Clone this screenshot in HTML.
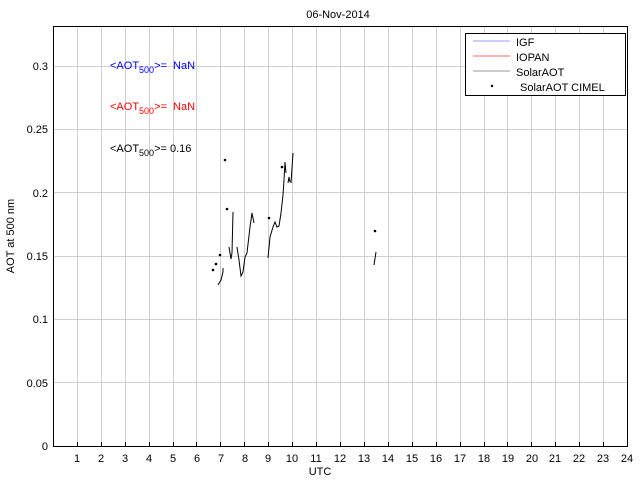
<!DOCTYPE html>
<html><head><meta charset="utf-8"><style>body{margin:0;background:#fff}svg{display:block}text{font-family:"Liberation Sans",sans-serif;font-size:11px}</style></head><body>
<svg width="640" height="480" xmlns="http://www.w3.org/2000/svg">
<rect width="640" height="480" fill="#fff"/>
<g stroke="#d0d0d0" stroke-width="1">
<path d="M77.5 26V446M101.5 26V446M125.5 26V446M149.5 26V446M173.5 26V446M196.5 26V446M220.5 26V446M244.5 26V446M268.5 26V446M292.5 26V446M316.5 26V446M340.5 26V446M364.5 26V446M388.5 26V446M412.5 26V446M436.5 26V446M460.5 26V446M484.5 26V446M507.5 26V446M531.5 26V446M555.5 26V446M579.5 26V446M603.5 26V446"/>
<path d="M53 382.5H627M53 319.5H627M53 256.5H627M53 192.5H627M53 129.5H627M53 66.5H627"/>
</g>
<rect x="53.5" y="26.5" width="574" height="420" fill="none" stroke="#000"/>
<g stroke="#000"><path d="M77.5 446v-4M101.5 446v-4M125.5 446v-4M149.5 446v-4M173.5 446v-4M196.5 446v-4M220.5 446v-4M244.5 446v-4M268.5 446v-4M292.5 446v-4M316.5 446v-4M340.5 446v-4M364.5 446v-4M388.5 446v-4M412.5 446v-4M436.5 446v-4M460.5 446v-4M484.5 446v-4M507.5 446v-4M531.5 446v-4M555.5 446v-4M579.5 446v-4M603.5 446v-4"/></g>
<g text-anchor="middle">
<text x="77" y="462">1</text><text x="101" y="462">2</text><text x="125" y="462">3</text><text x="149" y="462">4</text><text x="173" y="462">5</text><text x="197" y="462">6</text><text x="221" y="462">7</text><text x="245" y="462">8</text><text x="268" y="462">9</text><text x="292" y="462">10</text><text x="316" y="462">11</text><text x="340" y="462">12</text><text x="364" y="462">13</text><text x="388" y="462">14</text><text x="412" y="462">15</text><text x="436" y="462">16</text><text x="460" y="462">17</text><text x="484" y="462">18</text><text x="508" y="462">19</text><text x="532" y="462">20</text><text x="555" y="462">21</text><text x="579" y="462">22</text><text x="603" y="462">23</text><text x="627" y="462">24</text>
<text x="320" y="475" font-size="12">UTC</text>
<text x="338" y="18" font-size="12">06-Nov-2014</text>
</g>
<g text-anchor="end">
<text x="48" y="450">0</text><text x="48" y="387">0.05</text><text x="48" y="323">0.1</text><text x="48" y="260">0.15</text><text x="48" y="197">0.2</text><text x="48" y="133">0.25</text><text x="48" y="70">0.3</text>
</g>
<text transform="translate(14,236) rotate(-90)" text-anchor="middle" font-size="12">AOT at 500 nm</text>
<text x="110" y="69" fill="#0000ff" font-size="13">&lt;AOT<tspan font-size="9" dy="4">500</tspan><tspan dy="-4">&gt;=&#160;&#160;NaN</tspan></text>
<text x="110" y="110" fill="#ff0000" font-size="13">&lt;AOT<tspan font-size="9" dy="4">500</tspan><tspan dy="-4">&gt;=&#160;&#160;NaN</tspan></text>
<text x="110" y="152" fill="#000" font-size="13">&lt;AOT<tspan font-size="9" dy="4">500</tspan><tspan dy="-4">&gt;= 0.16</tspan></text>
<g fill="none" stroke="#000" stroke-width="1">
<polyline points="218,285 221,280 223,272 223,268"/>
<polyline points="229,247 231,259 232,253 233,212"/>
<polyline points="237,247 239,260 241,276 243,272 245,257 247,253 250,227 252,213 254,223"/>
<polyline points="268,258 270,237 273,227 275,222 277,227 279,226 281,213 283,195 284,180 285,162 286,173"/>
<polyline points="288,183 289,177 290,182"/>
<polyline points="291,183 293,153"/>
<polyline points="374,265 376,252"/>
</g>
<g fill="#000">
<circle cx="213" cy="270" r="1.3"/><circle cx="216" cy="264" r="1.3"/><circle cx="220" cy="255" r="1.3"/><circle cx="225" cy="160" r="1.3"/><circle cx="227" cy="209" r="1.3"/><circle cx="269" cy="218" r="1.3"/><circle cx="282" cy="167" r="1.3"/><circle cx="375" cy="231" r="1.3"/>
</g>
<rect x="465.5" y="33.5" width="160" height="62" fill="#fff" stroke="#000"/>
<line x1="473" y1="41" x2="510" y2="41" stroke="#9999ff"/>
<line x1="473" y1="56" x2="510" y2="56" stroke="#ff6666"/>
<line x1="473" y1="71" x2="510" y2="71" stroke="#999"/>
<circle cx="492" cy="86" r="1.2" fill="#000"/>
<g font-size="13">
<text x="516" y="46">IGF</text>
<text x="516" y="61">IOPAN</text>
<text x="516" y="76">SolarAOT</text>
<text x="520" y="91">SolarAOT CIMEL</text>
</g>
</svg>
</body></html>
